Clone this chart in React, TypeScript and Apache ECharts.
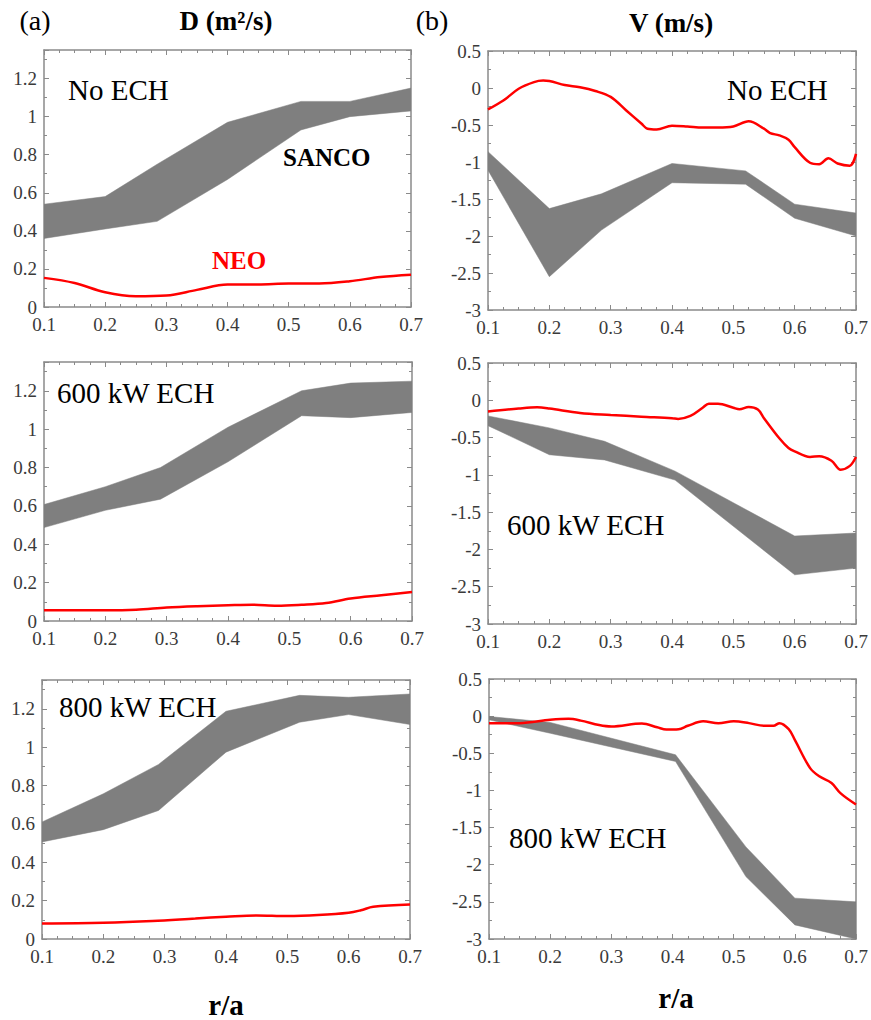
import React, { useEffect, useRef } from "react";
import * as echarts from "echarts";

// ---- Band (SANCO) data ----
const band1X = [0.1, 0.2, 0.285, 0.4, 0.52, 0.6, 0.7];
const band1Up = [0.54, 0.58, 0.75, 0.97, 1.08, 1.08, 1.15];
const band1Lo = [0.36, 0.41, 0.45, 0.67, 0.93, 1.0, 1.03];

const band2X = [0.1, 0.2, 0.285, 0.4, 0.52, 0.6, 0.7];
const band2Up = [-0.86, -1.63, -1.43, -1.02, -1.12, -1.57, -1.69];
const band2Lo = [-1.11, -2.55, -1.92, -1.28, -1.3, -1.76, -2.0];

const band3X = [0.1, 0.2, 0.29, 0.4, 0.52, 0.6, 0.7];
const band3Up = [0.607, 0.7, 0.8, 1.01, 1.2, 1.24, 1.25];
const band3Lo = [0.487, 0.577, 0.635, 0.83, 1.07, 1.06, 1.087];

const band4X = [0.1, 0.2, 0.29, 0.405, 0.6, 0.7];
const band4Up = [-0.21, -0.37, -0.55, -0.95, -1.82, -1.78];
const band4Lo = [-0.34, -0.73, -0.8, -1.07, -2.34, -2.25];

const band5X = [0.1, 0.2, 0.29, 0.4, 0.52, 0.6, 0.7];
const band5Up = [0.61, 0.757, 0.91, 1.187, 1.27, 1.26, 1.277];
const band5Lo = [0.506, 0.57, 0.67, 0.974, 1.13, 1.17, 1.118];

const band6X = [0.1, 0.2, 0.405, 0.52, 0.6, 0.7];
const band6Up = [-0.005, -0.085, -0.52, -1.76, -2.45, -2.5];
const band6Lo = [-0.05, -0.23, -0.61, -2.16, -2.81, -3.0];

// ---- NEO (red) data ----
const neo1X = [0.1, 0.15, 0.2, 0.25, 0.3, 0.35, 0.4, 0.45, 0.5, 0.55, 0.6, 0.65, 0.7];
const neo1Y = [0.153, 0.126, 0.077, 0.056, 0.06, 0.09, 0.118, 0.118, 0.123, 0.123, 0.135, 0.158, 0.17];

const neo2X = [0.1, 0.125, 0.15, 0.175, 0.19, 0.2, 0.225, 0.25, 0.275, 0.3, 0.325, 0.35, 0.36, 0.375, 0.4, 0.425, 0.45, 0.475, 0.5, 0.525, 0.55, 0.56, 0.575, 0.59, 0.6, 0.625, 0.64, 0.655, 0.67, 0.69, 0.7];
const neo2Y = [-0.29, -0.17, -0.01, 0.08, 0.1, 0.095, 0.04, 0.01, -0.04, -0.12, -0.3, -0.48, -0.55, -0.56, -0.51, -0.52, -0.535, -0.535, -0.52, -0.45, -0.55, -0.61, -0.64, -0.7, -0.8, -1.01, -1.03, -0.95, -1.02, -1.05, -0.89];

const neo3X = [0.1, 0.2, 0.25, 0.3, 0.35, 0.4, 0.44, 0.48, 0.52, 0.56, 0.6, 0.65, 0.7];
const neo3Y = [0.056, 0.056, 0.059, 0.07, 0.077, 0.082, 0.085, 0.08, 0.085, 0.094, 0.117, 0.134, 0.151];

const neo4X = [0.1, 0.15, 0.18, 0.2, 0.25, 0.3, 0.35, 0.4, 0.41, 0.43, 0.45, 0.46, 0.475, 0.5, 0.51, 0.525, 0.54, 0.55, 0.575, 0.59, 0.6, 0.625, 0.64, 0.66, 0.675, 0.69, 0.7];
const neo4Y = [-0.15, -0.11, -0.094, -0.11, -0.17, -0.197, -0.22, -0.24, -0.25, -0.21, -0.1, -0.045, -0.045, -0.1, -0.12, -0.09, -0.125, -0.24, -0.51, -0.64, -0.685, -0.76, -0.75, -0.81, -0.93, -0.88, -0.76];

const neo5X = [0.1, 0.2, 0.28, 0.35, 0.4, 0.45, 0.5, 0.55, 0.6, 0.62, 0.64, 0.7];
const neo5Y = [0.081, 0.085, 0.094, 0.107, 0.116, 0.123, 0.12, 0.125, 0.137, 0.15, 0.168, 0.18];

const neo6X = [0.1, 0.15, 0.2, 0.23, 0.25, 0.28, 0.3, 0.35, 0.375, 0.39, 0.41, 0.425, 0.45, 0.475, 0.5, 0.525, 0.55, 0.565, 0.575, 0.59, 0.6, 0.625, 0.64, 0.66, 0.675, 0.7];
const neo6Y = [-0.094, -0.094, -0.05, -0.036, -0.06, -0.12, -0.14, -0.1, -0.15, -0.18, -0.175, -0.13, -0.07, -0.094, -0.07, -0.094, -0.13, -0.13, -0.094, -0.175, -0.32, -0.7, -0.81, -0.9, -1.04, -1.19];

// ---- Labels ----
const panelLabels = ["No ECH", "No ECH", "600 kW ECH", "600 kW ECH", "800 kW ECH", "800 kW ECH"];
const xTicks = { min: 0.1, max: 0.7, interval: 0.1 };
const dTicks = { min: 0, max: 1.35, interval: 0.2 };
const vTicks = { min: -3, max: 0.5, interval: 0.5 };

const FONT = "Liberation Serif";
const AXIS_COLOR = "#8a8a8a";
const LABEL_COLOR = "#3a3a3a";
const BAND_COLOR = "#7f7f7f";
const RED = "#ff0000";

const grids = [
  { left: 44, top: 50, width: 367, height: 257 },
  { left: 488, top: 51, width: 368, height: 259 },
  { left: 44, top: 362, width: 368, height: 259 },
  { left: 488, top: 363, width: 368, height: 261 },
  { left: 42, top: 680, width: 368, height: 259 },
  { left: 489, top: 679, width: 367, height: 260 },
];

const bands = [
  [band1X, band1Up, band1Lo],
  [band2X, band2Up, band2Lo],
  [band3X, band3Up, band3Lo],
  [band4X, band4Up, band4Lo],
  [band5X, band5Up, band5Lo],
  [band6X, band6Up, band6Lo],
];
const neos = [
  [neo1X, neo1Y],
  [neo2X, neo2Y],
  [neo3X, neo3Y],
  [neo4X, neo4Y],
  [neo5X, neo5Y],
  [neo6X, neo6Y],
];

function fmt(v: number) {
  const r = Math.round(v * 100) / 100;
  if (Math.abs(r - 1.35) < 1e-6) return "";
  return String(r);
}

export default function App() {
  const ref = useRef<HTMLDivElement>(null);
  useEffect(() => {
    document.body.style.margin = "0";
    if (!ref.current) return;
    const chart = echarts.init(ref.current, null, { renderer: "svg" });

    const xAxis: any[] = [];
    const yAxis: any[] = [];
    const series: any[] = [];

    grids.forEach((g, i) => {
      const isD = i % 2 === 0;
      const yt = isD ? dTicks : vTicks;
      const common = {
        axisLine: { show: true, onZero: false, lineStyle: { color: AXIS_COLOR, width: 1.5 } },
        axisTick: { show: true, inside: true, length: 5, lineStyle: { color: AXIS_COLOR, width: 1 } },
        splitLine: { show: false },
      };
      xAxis.push({
        type: "value",
        gridIndex: i,
        position: "bottom",
        ...xTicks,
        ...common,
        minorTick: { show: true, splitNumber: 4, length: 3, lineStyle: { color: AXIS_COLOR } },
        axisLabel: { fontFamily: FONT, fontSize: 19, color: LABEL_COLOR, margin: 8, formatter: (v: number) => fmt(v) },
      });
      xAxis.push({
        type: "value",
        gridIndex: i,
        position: "top",
        ...xTicks,
        ...common,
        minorTick: { show: true, splitNumber: 4, length: 3, lineStyle: { color: AXIS_COLOR } },
        axisLabel: { show: false },
      });
      yAxis.push({
        type: "value",
        gridIndex: i,
        position: "left",
        ...yt,
        ...common,
        minorTick: { show: true, splitNumber: 2, length: 3, lineStyle: { color: AXIS_COLOR } },
        axisLabel: { fontFamily: FONT, fontSize: 19, color: LABEL_COLOR, margin: 7, formatter: (v: number) => fmt(v), showMaxLabel: !isD },
      });
      yAxis.push({
        type: "value",
        gridIndex: i,
        position: "right",
        ...yt,
        ...common,
        minorTick: { show: true, splitNumber: 2, length: 3, lineStyle: { color: AXIS_COLOR } },
        axisLabel: { show: false },
      });

      const [bx, bu, bl] = bands[i];
      series.push({
        type: "custom",
        name: "SANCO",
        xAxisIndex: i * 2,
        yAxisIndex: i * 2,
        data: bx.map((x, k) => [x, bl[k], bu[k]]),
        encode: { x: 0, y: [1, 2] },
        clip: true,
        renderItem: (params: any, api: any) => {
          if (params.dataIndex !== 0) return null;
          const pts: number[][] = [];
          for (let k = 0; k < bx.length; k++) pts.push(api.coord([bx[k], bu[k]]));
          for (let k = bx.length - 1; k >= 0; k--) pts.push(api.coord([bx[k], bl[k]]));
          return { type: "polygon", shape: { points: pts }, style: { fill: BAND_COLOR, stroke: BAND_COLOR, lineWidth: 0.5 } };
        },
        z: 2,
      });

      const [nx, ny] = neos[i];
      series.push({
        type: "line",
        name: "NEO",
        xAxisIndex: i * 2,
        yAxisIndex: i * 2,
        data: nx.map((x, k) => [x, ny[k]]),
        smooth: 0.35,
        showSymbol: false,
        symbol: "none",
        lineStyle: { color: RED, width: 2.5 },
        z: 3,
      });
    });

    const txt = (text: string, x: number, y: number, size: number, opts: any = {}) => ({
      type: "text",
      x,
      y,
      silent: true,
      z: 10,
      style: {
        text,
        fontFamily: FONT,
        fontSize: size,
        fontWeight: opts.bold ? "bold" : "normal",
        fill: opts.fill || "#000",
        align: opts.align || "left",
        verticalAlign: "middle",
      },
    });

    const graphic = [
      txt("(a)", 35, 20, 28, { align: "center" }),
      txt("D (m²/s)", 226, 21, 27, { align: "center", bold: true }),
      txt("(b)", 432, 20, 28, { align: "center" }),
      txt("V (m/s)", 671, 23, 27, { align: "center", bold: true }),
      txt(panelLabels[0], 68, 90, 29),
      txt("SANCO", 283, 157, 25, { bold: true }),
      txt("NEO", 212, 260, 25, { bold: true, fill: RED }),
      txt(panelLabels[1], 727, 90, 29),
      txt(panelLabels[2], 57, 393, 29),
      txt(panelLabels[3], 507, 525, 29),
      txt(panelLabels[4], 59, 707, 29),
      txt(panelLabels[5], 509, 838, 29),
      txt("r/a", 226, 1005, 29, { align: "center", bold: true }),
      txt("r/a", 676, 998, 29, { align: "center", bold: true }),
    ];

    chart.setOption({
      animation: false,
      backgroundColor: "#ffffff",
      textStyle: { fontFamily: FONT },
      grid: grids.map((g) => ({ ...g, containLabel: false })),
      xAxis,
      yAxis,
      series,
      graphic,
    });
    return () => chart.dispose();
  }, []);
  return <div ref={ref} style={{ width: 871, height: 1020 }} />;
}
